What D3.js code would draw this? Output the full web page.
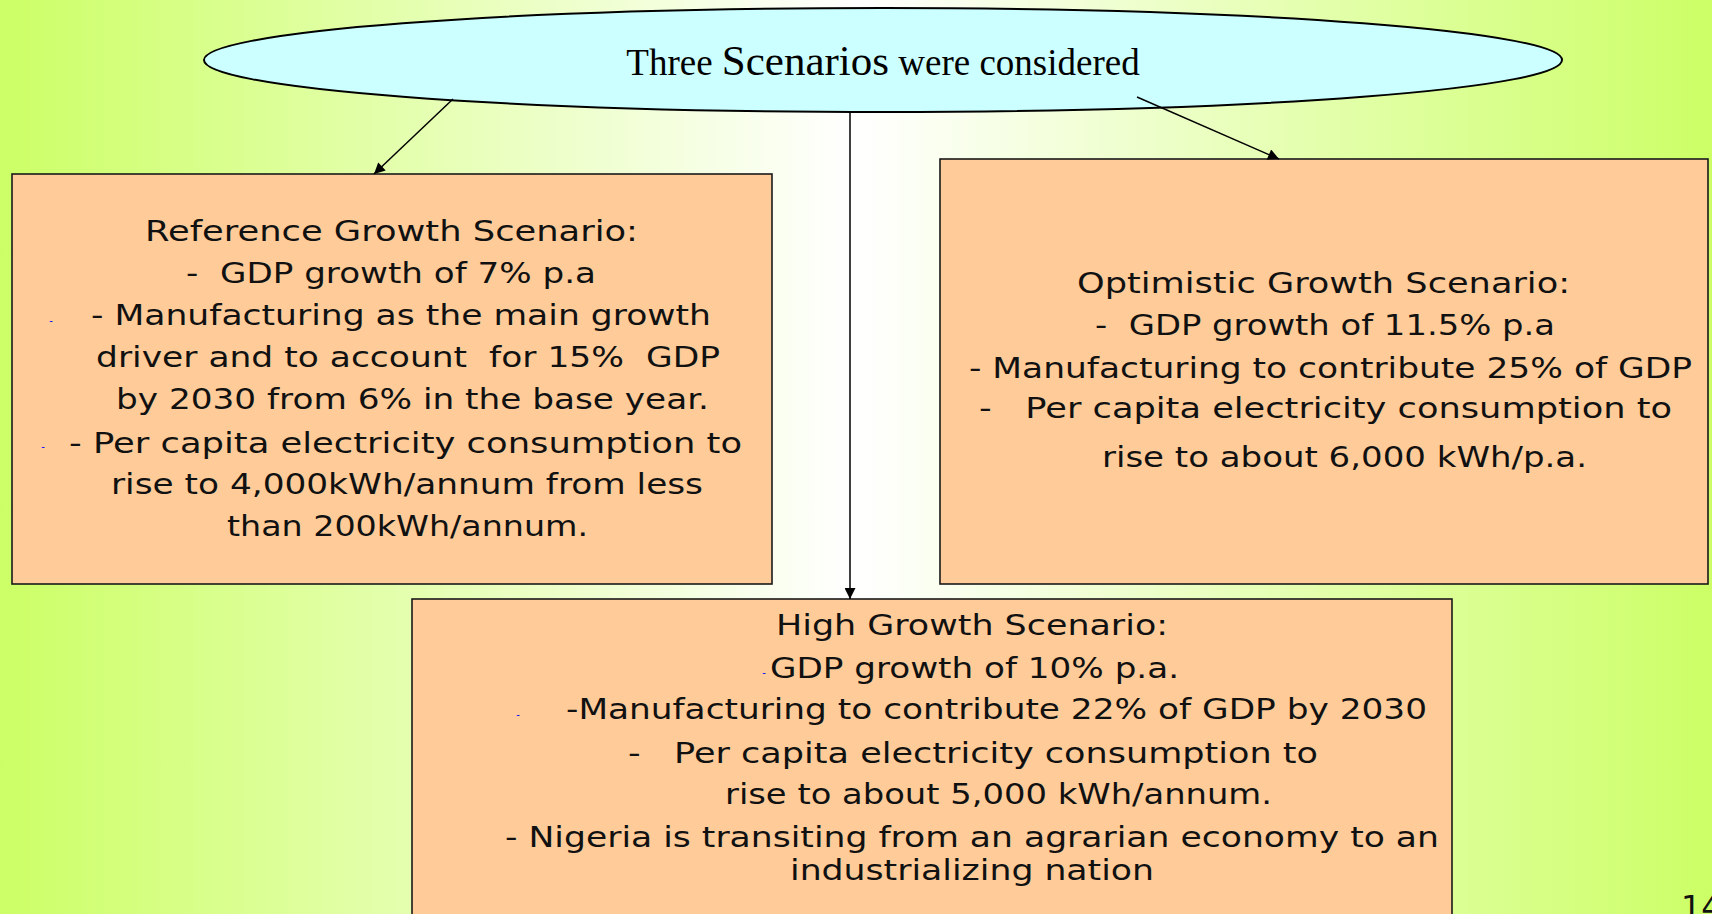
<!DOCTYPE html>
<html>
<head>
<meta charset="utf-8">
<script src="https://cdn.jsdelivr.net/npm/d3@7"></script>
<style>
  html, body { margin: 0; padding: 0; overflow: hidden; }
  svg { display: block; }
  text { white-space: pre; }
</style>
</head>
<body>
<svg id="chart" width="1712" height="914"></svg>
<script>
// ---------- data (texts) ----------
const titleParts = ["Three ", "Scenarios", " were considered"];
const scenarioNames = ["Reference", "Optimistic", "High"];
const referenceLines = [
  "Reference Growth Scenario:",
  "-  GDP growth of 7% p.a",
  "- Manufacturing as the main growth",
  "driver and to account  for 15%  GDP",
  "by 2030 from 6% in the base year.",
  "- Per capita electricity consumption to",
  "rise to 4,000kWh/annum from less",
  "than 200kWh/annum."
];
const optimisticLines = [
  "Optimistic Growth Scenario:",
  "-  GDP growth of 11.5% p.a",
  "- Manufacturing to contribute 25% of GDP",
  "-   Per capita electricity consumption to",
  "rise to about 6,000 kWh/p.a."
];
const highLines = [
  "High Growth Scenario:",
  "GDP growth of 10% p.a.",
  "-Manufacturing to contribute 22% of GDP by 2030",
  "-   Per capita electricity consumption to",
  "rise to about 5,000 kWh/annum.",
  "- Nigeria is transiting from an agrarian economy to an",
  "industrializing nation"
];
const pageNumber = "14";

// ---------- layout ----------
const W = 1712, H = 914;
const ellipse = { cx: 883, cy: 60, rx: 679, ry: 52 };
const boxes = {
  Reference:  { x0: 12,  y0: 174, x1: 772,  y1: 584 },
  Optimistic: { x0: 940, y0: 159, x1: 1708, y1: 584 },
  High:       { x0: 412, y0: 599, x1: 1452, y1: 940 }
};
const lineLayout = {
  Reference: {
    x0: [145, 186, 91, 96, 116, 69, 111, 227],
    x1: [638, 596, 711, 720, 709, 742, 703, 588],
    y:  [241, 283, 325, 367, 409, 453, 494, 536]
  },
  Optimistic: {
    x0: [1077, 1095, 969, 979, 1102],
    x1: [1570, 1555, 1692, 1672, 1587],
    y:  [293, 335, 378, 418, 467]
  },
  High: {
    x0: [776, 770, 566, 628, 725, 505, 790],
    x1: [1168, 1179, 1427, 1318, 1272, 1439, 1154],
    y:  [635, 678, 719, 763, 804, 847, 880]
  }
};
const blueDashes = [[51, 321], [43, 447], [764, 673], [518, 715]];
const edges = [
  { to: "Reference",  p: [[453, 99], [374, 174]] },
  { to: "High",       p: [[850, 112], [850, 599]] },
  { to: "Optimistic", p: [[1137, 97], [1279, 159]] }
];
const textsByName = { Reference: referenceLines, Optimistic: optimisticLines, High: highLines };

// ---------- drawing ----------
const svg = d3.select("#chart");
const defs = svg.append("defs");
const grad = defs.append("linearGradient").attr("id", "bg")
  .attr("x1", "0%").attr("x2", "100%").attr("y1", "0%").attr("y2", "0%");
grad.selectAll("stop").data([
  ["0%", "#ccff66"], ["50%", "#ffffff"], ["100%", "#ccff66"]
]).join("stop").attr("offset", d => d[0]).attr("stop-color", d => d[1]);

defs.append("marker").attr("id", "arrow")
  .attr("viewBox", "0 -5 10 10").attr("refX", 10).attr("refY", 0)
  .attr("markerWidth", 14).attr("markerHeight", 11)
  .attr("markerUnits", "userSpaceOnUse").attr("orient", "auto")
  .append("path").attr("d", "M0,-5L10,0L0,5Z").attr("fill", "#000");

svg.append("rect").attr("width", W).attr("height", H).attr("fill", "url(#bg)");

// boxes
const boxG = svg.append("g");
boxG.selectAll("rect").data(scenarioNames).join("rect")
  .attr("x", d => boxes[d].x0).attr("y", d => boxes[d].y0)
  .attr("width", d => boxes[d].x1 - boxes[d].x0)
  .attr("height", d => boxes[d].y1 - boxes[d].y0)
  .attr("fill", "#ffcc99").attr("stroke", "#1a1a1a").attr("stroke-width", 1.6);

// ellipse
svg.append("ellipse")
  .attr("cx", ellipse.cx).attr("cy", ellipse.cy)
  .attr("rx", ellipse.rx).attr("ry", ellipse.ry)
  .attr("fill", "#ccffff").attr("stroke", "#000").attr("stroke-width", 2);

// title
const title = svg.append("text")
  .attr("x", ellipse.cx).attr("y", 75)
  .attr("text-anchor", "middle")
  .attr("font-family", "'Liberation Serif', 'Times New Roman', serif")
  .attr("fill", "#000");
title.selectAll("tspan").data(titleParts).join("tspan")
  .attr("font-size", (d, i) => i === 1 ? 43 : 37)
  .text(d => d);

// edges
svg.append("g").selectAll("line").data(edges).join("line")
  .attr("x1", d => d.p[0][0]).attr("y1", d => d.p[0][1])
  .attr("x2", d => d.p[1][0]).attr("y2", d => d.p[1][1])
  .attr("stroke", "#000").attr("stroke-width", 1.5)
  .attr("marker-end", "url(#arrow)");

// scenario texts
scenarioNames.forEach(name => {
  const L = lineLayout[name];
  const rows = textsByName[name].map((t, i) => ({ t, x0: L.x0[i], x1: L.x1[i], y: L.y[i] }));
  svg.append("g").selectAll("text").data(rows).join("text")
    .attr("x", d => d.x0).attr("y", d => d.y)
    .attr("textLength", d => d.x1 - d.x0)
    .attr("lengthAdjust", "spacingAndGlyphs")
    .attr("font-family", "'DejaVu Sans', Verdana, sans-serif")
    .attr("font-size", 29)
    .attr("fill", "#111")
    .text(d => d.t);
});

// small blue dashes
svg.append("g").selectAll("text").data(blueDashes).join("text")
  .attr("x", d => d[0]).attr("y", d => d[1] + 3)
  .attr("text-anchor", "middle")
  .attr("font-family", "'DejaVu Sans', sans-serif")
  .attr("font-size", 10).attr("fill", "#0000ff")
  .text("-");

// page number
svg.append("text")
  .attr("x", 1681).attr("y", 918)
  .attr("font-family", "'DejaVu Sans', Verdana, sans-serif")
  .attr("font-size", 32).attr("fill", "#111")
  .text(pageNumber);
</script>
</body>
</html>
